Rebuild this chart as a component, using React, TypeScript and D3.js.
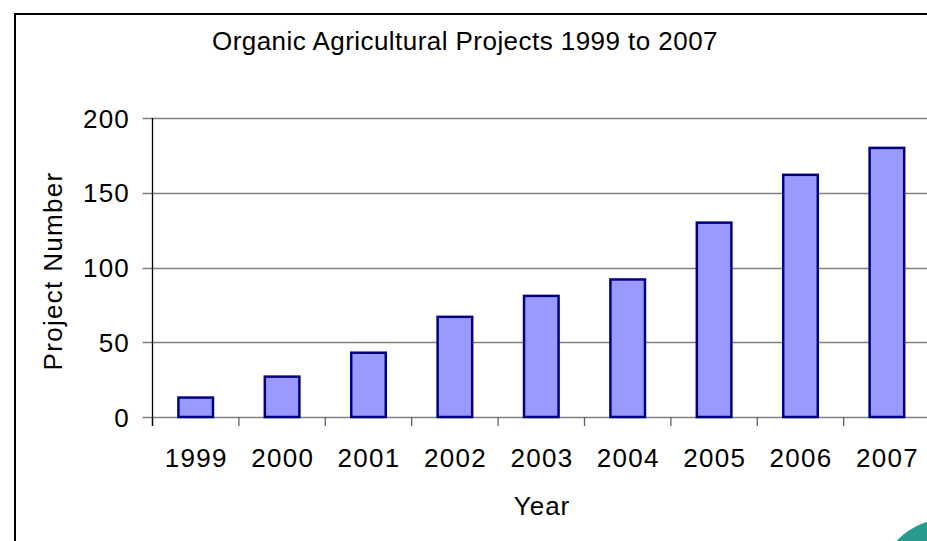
import { useEffect, useRef } from 'react';
import * as d3 from 'd3';

// ── data ──
const years = ['1999', '2000', '2001', '2002', '2003', '2004', '2005', '2006', '2007'];
const projects = [13, 27, 43, 67, 81, 92, 130, 162, 180];
const yTicks = [0, 50, 100, 150, 200];

const W = 927;
const H = 541;
const FONT = '"Liberation Sans", Arial, Helvetica, sans-serif';

export default function App() {
  const ref = useRef<SVGSVGElement | null>(null);

  useEffect(() => {
    document.body.style.margin = '0';
    if (!ref.current) return;
    const svg = d3.select(ref.current);
    svg.selectAll('*').remove();

    const left = 152.5;
    const step = 86.4;
    const top = 118;
    const bottom = 417;

    const x = d3.scaleBand<string>().domain(years)
      .range([left, left + step * years.length]).padding(0);
    const y = d3.scaleLinear().domain([0, 200]).range([bottom, top]);
    const barW = x.bandwidth() / 2.5;

    svg.append('rect').attr('width', W).attr('height', H).attr('fill', '#fff');

    // outer chart frame (cropped at right and bottom)
    svg.append('rect')
      .attr('x', 15).attr('y', 14).attr('width', W + 20).attr('height', H + 20)
      .attr('fill', 'none').attr('stroke', '#000').attr('stroke-width', 2);

    // gridlines (with left tick stubs)
    svg.append('g').selectAll('line').data(yTicks).join('line')
      .attr('x1', left - 10).attr('x2', W)
      .attr('y1', d => Math.round(y(d)) + 0.5).attr('y2', d => Math.round(y(d)) + 0.5)
      .attr('stroke', '#808080').attr('stroke-width', 1.3);

    // x tick marks at category boundaries
    svg.append('g').selectAll('line').data(years).join('line')
      .attr('x1', d => x(d)!).attr('x2', d => x(d)!)
      .attr('y1', bottom).attr('y2', bottom + 9)
      .attr('stroke', '#606060').attr('stroke-width', 1.3);

    // y axis
    svg.append('line')
      .attr('x1', left).attr('x2', left).attr('y1', top).attr('y2', bottom + 9)
      .attr('stroke', '#000').attr('stroke-width', 1.3);

    // bars
    svg.append('g').selectAll('rect').data(projects).join('rect')
      .attr('x', (_, i) => x(years[i])! + (x.bandwidth() - barW) / 2)
      .attr('y', d => y(d))
      .attr('width', barW)
      .attr('height', d => bottom - y(d))
      .attr('fill', '#9999ff')
      .attr('stroke', '#000080')
      .attr('stroke-width', 2.5);

    // y tick labels
    svg.append('g').selectAll('text').data(yTicks).join('text')
      .attr('x', 130).attr('y', d => y(d) + 9.5)
      .attr('text-anchor', 'end')
      .attr('font-family', FONT).attr('font-size', 26).attr('letter-spacing', 1.2)
      .attr('fill', '#000')
      .text(d => d);

    // x tick labels
    svg.append('g').selectAll('text').data(years).join('text')
      .attr('x', d => x(d)! + x.bandwidth() / 2 + 0.6).attr('y', 467)
      .attr('text-anchor', 'middle')
      .attr('font-family', FONT).attr('font-size', 26).attr('letter-spacing', 1.3)
      .attr('fill', '#000')
      .text(d => d);

    // titles
    svg.append('text')
      .attr('x', 465).attr('y', 50).attr('text-anchor', 'middle')
      .attr('font-family', FONT).attr('font-size', 26).attr('letter-spacing', 0.45)
      .attr('fill', '#000')
      .text('Organic Agricultural Projects 1999 to 2007');

    svg.append('text')
      .attr('x', 542).attr('y', 515).attr('text-anchor', 'middle')
      .attr('font-family', FONT).attr('font-size', 26).attr('letter-spacing', 1)
      .attr('fill', '#000')
      .text('Year');

    svg.append('text')
      .attr('transform', 'translate(62,271) rotate(-90)')
      .attr('text-anchor', 'middle')
      .attr('font-family', FONT).attr('font-size', 26).attr('letter-spacing', 1.3)
      .attr('fill', '#000')
      .text('Project Number');

    // teal decoration peeking in at bottom right
    svg.append('circle')
      .attr('cx', 950).attr('cy', 592).attr('r', 74)
      .attr('fill', '#2a9a8c');
  }, []);

  return (
    <svg ref={ref} width={W} height={H}
      style={{ position: 'absolute', left: 0, top: 0, display: 'block' }} />
  );
}
